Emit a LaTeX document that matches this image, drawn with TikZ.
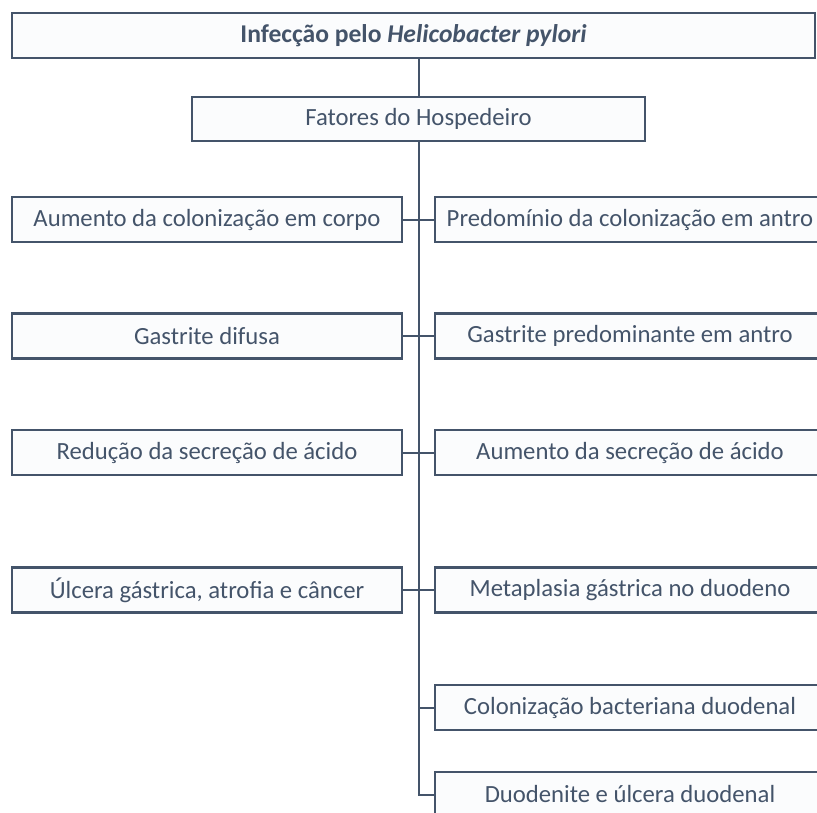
\documentclass[tikz,border=0pt]{standalone}
\usepackage{fontspec}
\setmainfont{Carlito}
\definecolor{ink}{HTML}{44546A}
\definecolor{boxfill}{HTML}{FBFCFD}
\begin{document}
\begin{tikzpicture}[x=1pt,y=-1pt,
  box/.style={draw=ink, line width=2.2pt, fill=boxfill, text=ink, inner sep=0pt,
    minimum width=390pt, minimum height=45pt, font=\fontsize{24.7}{28}\selectfont},
  conn/.style={draw=ink, line width=2pt}]
\useasboundingbox (0,0) rectangle (817,812);
\clip (0,0) rectangle (817,812);
\node[box, minimum width=803pt, font=\bfseries\fontsize{25.6}{29}\selectfont] (top) at (413.5,35.5) {Infecção pelo \textit{Helicobacter pylori}};
\node[box, minimum width=453pt, minimum height=44pt] (fat) at (418.5,119) {Fatores do Hospedeiro};
\node[box] (l1) at (207,219.5) {Aumento da colonização em corpo};
\node[box] (l2) at (207,336) {Gastrite difusa};
\node[box] (l3) at (207,452.5) {Redução da secreção de ácido};
\node[box] (l4) at (207,590) {Úlcera gástrica, atrofia e câncer};
\node[box] (r1) at (630,219.5) {Predomínio da colonização em antro};
\node[box] (r2) at (630,336) {Gastrite predominante em antro};
\node[box] (r3) at (630,452.5) {Aumento da secreção de ácido};
\node[box] (r4) at (630,590) {Metaplasia gástrica no duodeno};
\node[box] (r5) at (630,707.5) {Colonização bacteriana duodenal};
\node[box] (r6) at (630,794.5) {Duodenite e úlcera duodenal};
\coordinate (t0) at (fat.north |- top.south);
\coordinate (j5) at (fat.south |- r5.west);
\coordinate (j6) at (fat.south |- r6.west);
\draw[conn] (t0) -- (fat.north);
\draw[conn] (fat.south) -- (j6) -- (r6.west);
\draw[conn] (j5) -- (r5.west);
\draw[conn] (l1.east) -- (r1.west);
\draw[conn] (l2.east) -- (r2.west);
\draw[conn] (l3.east) -- (r3.west);
\draw[conn] (l4.east) -- (r4.west);
\end{tikzpicture}
\end{document}
